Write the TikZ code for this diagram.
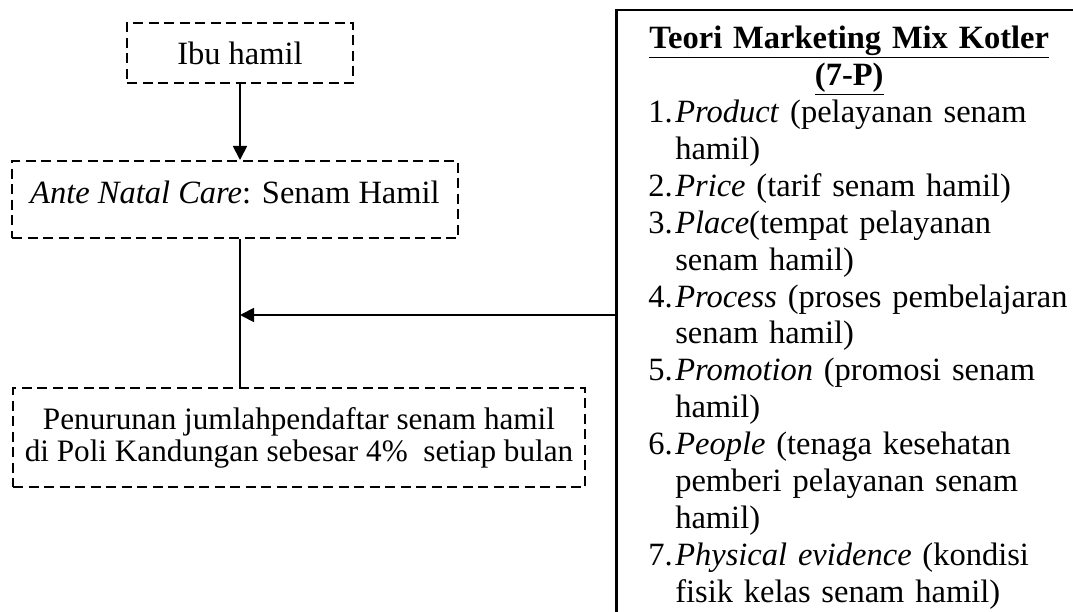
\documentclass[tikz,border=0pt]{standalone}
\usepackage{fontspec}
\setmainfont{Liberation Serif}
\usetikzlibrary{arrows.meta,positioning}

\begin{document}
\begin{tikzpicture}[x=1pt,y=-1pt,
    font=\fontsize{32.5}{36.9}\selectfont,
    dash box/.style={draw,dash pattern=on 10pt off 5.5pt,line width=2.2pt,inner sep=0pt},
    teori box/.style={draw,line width=2.5pt,inner xsep=0pt,inner ysep=16pt,text width=466pt},
    link/.style={line width=1.8pt},
    arrow/.style={link,-{Triangle[length=14pt,width=14pt]}}]

  \useasboundingbox (0,0) rectangle (1073,612);
  \clip (0,0) rectangle (1073,612);

  \node[dash box,minimum width=226pt,minimum height=60pt] (ibu) at (240,53) {Ibu hamil};
  \node[dash box,minimum width=446pt,anchor=north,text height=22pt,text depth=15pt,inner ysep=20pt] (anc) at (235,160) {\textit{Ante Natal Care}: Senam Hamil};
  \node[dash box,minimum width=572pt,minimum height=99pt,align=center,
        font=\fontsize{31.2}{32}\selectfont] (turun) at (299,437.5)
        {Penurunan jumlahpendaftar senam hamil\\di Poli Kandungan sebesar 4\%\ \ setiap bulan};

  % kotak teori, terpotong di kanan dan bawah
  \node[teori box,anchor=north west] (teori) at (615,9) {%
    {\centering\bfseries\underline{Teori Marketing Mix Kotler}\\\underline{(7-P)}\par}
    \raggedright\leftskip=59pt
    \leavevmode\llap{\makebox[27pt][l]{1.}}\textit{Product} (pelayanan senam\\hamil)\par
    \leavevmode\llap{\makebox[27pt][l]{2.}}\textit{Price} (tarif senam hamil)\par
    \leavevmode\llap{\makebox[27pt][l]{3.}}\textit{Place}(tempat pelayanan\\senam hamil)\par
    \leavevmode\llap{\makebox[27pt][l]{4.}}\textit{Process} (proses pembelajaran\\senam hamil)\par
    \leavevmode\llap{\makebox[27pt][l]{5.}}\textit{Promotion} (promosi senam\\hamil)\par
    \leavevmode\llap{\makebox[27pt][l]{6.}}\textit{People} (tenaga kesehatan\\pemberi pelayanan senam\\hamil)\par
    \leavevmode\llap{\makebox[27pt][l]{7.}}\textit{Physical evidence} (kondisi\\fisik kelas senam hamil)\par};

  \coordinate (temu) at (240,315);

  \draw[arrow] (ibu.south) -- (ibu.south |- anc.north);
  \draw[link] (anc.south -| ibu.south) -- (turun.north -| ibu.south);
  \draw[arrow] (teori.west |- temu) -- (temu);
\end{tikzpicture}
\end{document}
